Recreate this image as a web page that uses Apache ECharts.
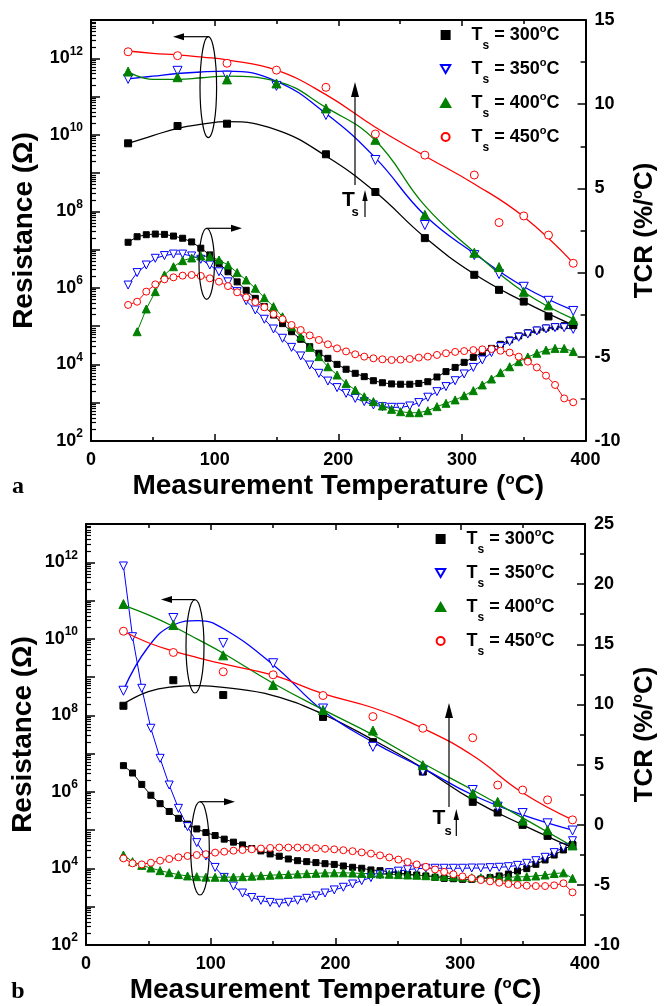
<!DOCTYPE html>
<html><head><meta charset="utf-8">
<script src="https://cdn.jsdelivr.net/npm/echarts@6.0.0/dist/echarts.min.js"></script>
<style>html,body{margin:0;padding:0;background:#fff}#c{width:666px;height:1006px}</style>
</head><body><div id="c"></div>
<script>
// ---------- data ----------
const T_TCR = [30.0,37.3,44.7,52.0,59.4,66.7,74.1,81.4,88.8,96.1,103.5,110.8,118.2,125.5,132.9,140.2,147.6,154.9,162.2,169.6,176.9,184.3,191.6,199.0,206.3,213.7,221.0,228.4,235.7,243.1,250.4,257.8,265.1,272.4,279.8,287.1,294.5,301.8,309.2,316.5,323.9,331.2,338.6,345.9,353.3,360.6,368.0,375.3,382.7,390.0];
const T_RES = [30,70,110,150,190,230,270,310,330,350,370,390];
const T_RES_300 = [30,70,110,190,230,270,310,330,350,370,390];
const T_FIT = [30,50,70,90,110,150,190,230,270,310,350,390];
const SERIES_KEYS = ['300','350','400','450'];

// Panel a: resistance markers (Ohm)
const aRes300 = [6.0e9,1.7e10,1.95e10,3.1e9,3.2e8,2.0e7,2.2e6,8.9e5,4.4e5,1.8e5,1.07e5];
const aRes350 = [2.9e11,4.7e11,3.5e11,1.9e11,3.3e10,2.2e9,4.4e7,7.2e6,2.3e6,1.07e6,4.6e5,2.5e5];
const aRes400 = [4.5e11,3.2e11,2.8e11,2.2e11,4.9e10,7.4e9,8.1e7,8.3e6,3.5e6,7.9e5,3.5e5,1.45e5];
const aRes450 = [1.48e12,1.17e12,7.4e11,4.9e11,1.74e11,1.05e10,2.95e9,8.9e8,5.1e7,7.6e7,2.4e7,4.4e6];
// Panel a: fitted resistance curves (Ohm) at T_FIT
const aFit300 = [6.0e9,9.5e9,1.48e10,1.9e10,2.2e10,1.35e10,2.8e9,3.2e8,2.1e7,2.3e6,4.4e5,1.07e5];
const aFit350 = [2.9e11,3.4e11,4.0e11,4.4e11,4.6e11,2.5e11,3.6e10,2.5e9,7.9e7,7.9e6,1.07e6,2.6e5];
const aFit400 = [4.4e11,2.8e11,2.8e11,3.1e11,3.4e11,2.5e11,5.2e10,7.1e9,1.41e8,8.7e6,7.8e5,1.55e5];
const aFit450 = [1.55e12,1.35e12,1.23e12,1.07e12,9.1e11,4.9e11,1.12e11,1.58e10,2.8e9,5.2e8,7.2e7,4.5e6];
// Panel a: TCR (%/C) at T_TCR
const aTcr300 = [1.80,2.13,2.25,2.29,2.27,2.17,2.04,1.82,1.45,1.05,0.55,0.05,-0.55,-1.05,-1.53,-2.02,-2.52,-3.03,-3.51,-3.96,-4.40,-4.79,-5.09,-5.45,-5.74,-5.98,-6.18,-6.42,-6.54,-6.61,-6.63,-6.63,-6.58,-6.48,-6.20,-5.88,-5.63,-5.33,-5.03,-4.75,-4.50,-4.26,-4.00,-3.76,-3.57,-3.41,-3.29,-3.21,-3.15,-3.11];
const aTcr350 = [-0.74,0.00,0.45,0.85,1.01,1.10,1.10,0.99,0.79,0.45,0.05,-0.55,-1.13,-1.67,-2.22,-2.77,-3.35,-3.90,-4.44,-4.95,-5.49,-5.98,-6.44,-6.83,-7.17,-7.47,-7.66,-7.86,-7.96,-8.00,-8.00,-7.92,-7.72,-7.40,-7.07,-6.77,-6.42,-6.02,-5.63,-5.19,-4.75,-4.40,-4.10,-3.84,-3.65,-3.47,-3.35,-3.27,-3.27,-3.37];
const aTcr400 = [null,-3.51,-2.16,-1.13,-0.14,0.35,0.71,0.87,0.99,0.95,0.75,0.45,0.00,-0.44,-0.93,-1.49,-2.02,-2.62,-3.21,-3.80,-4.44,-4.99,-5.59,-6.08,-6.58,-6.97,-7.37,-7.66,-7.92,-8.12,-8.26,-8.32,-8.32,-8.20,-7.96,-7.76,-7.56,-7.31,-7.01,-6.67,-6.32,-5.94,-5.59,-5.29,-5.01,-4.79,-4.60,-4.50,-4.50,-4.69];
const aTcr450 = [-1.92,-1.73,-1.13,-0.70,-0.40,-0.28,-0.18,-0.14,-0.20,-0.34,-0.54,-0.80,-1.17,-1.47,-1.75,-2.06,-2.46,-2.77,-3.11,-3.41,-3.73,-4.00,-4.26,-4.50,-4.68,-4.85,-4.99,-5.09,-5.15,-5.19,-5.17,-5.13,-5.05,-4.99,-4.89,-4.79,-4.71,-4.66,-4.60,-4.56,-4.54,-4.64,-4.75,-4.99,-5.29,-5.63,-6.12,-6.67,-7.47,-7.70];

// Panel b: resistance markers (Ohm)
const bRes300 = [1.78e8,8.3e8,3.4e8,9.1e7,2.0e7,3.4e6,5.5e5,2.9e5,1.38e5,7.1e4,4.0e4];
const bRes350 = [4.4e8,3.5e10,7.8e9,2.3e9,1.51e8,1.51e7,3.5e6,1.12e6,4.1e5,2.8e5,1.51e5,9.8e4];
const bRes400 = [8.1e10,2.3e10,3.7e9,6.2e8,1.38e8,4.0e7,5.0e6,9.1e5,5.5e5,1.78e5,1.0e5,4.0e4];
const bRes450 = [1.58e10,4.4e9,1.38e9,1.15e9,3.3e8,9.3e7,4.6e7,2.6e7,1.51e6,1.12e6,6.2e5,1.86e5];
// Panel b: fitted resistance curves (Ohm) at T_FIT
const bFit300 = [2.0e8,4.2e8,5.6e8,6.0e8,5.4e8,3.3e8,1.07e8,2.3e7,4.2e6,6.2e5,1.38e5,3.5e4];
const bFit350 = [4.6e8,6.2e9,2.3e10,3.0e10,1.86e10,2.1e9,1.32e8,2.0e7,4.2e6,8.3e5,2.5e5,1.0e5];
const bFit400 = [7.6e10,4.2e10,2.1e10,9.5e9,4.2e9,6.9e8,1.41e8,3.1e7,5.6e6,1.12e6,2.1e5,3.8e4];
const bFit450 = [1.58e10,7.9e9,4.8e9,3.2e9,2.2e9,1.12e9,3.7e8,1.58e8,4.6e7,8.9e6,9.5e5,1.86e5];
// Panel b: TCR (%/C) at T_TCR
const bTcr300 = [4.91,4.30,3.35,2.45,1.75,1.10,0.53,0.05,-0.35,-0.65,-0.90,-1.20,-1.45,-1.68,-1.98,-2.18,-2.43,-2.62,-2.85,-2.99,-3.07,-3.15,-3.24,-3.30,-3.43,-3.54,-3.62,-3.76,-3.82,-3.90,-4.00,-4.10,-4.18,-4.26,-4.37,-4.46,-4.49,-4.54,-4.54,-4.51,-4.40,-4.26,-4.10,-3.85,-3.65,-3.29,-2.93,-2.52,-2.10,-1.63];
const bTcr350 = [21.51,15.63,11.34,8.02,5.52,3.30,1.36,-0.16,-1.49,-2.60,-3.55,-4.38,-5.10,-5.68,-6.05,-6.29,-6.46,-6.53,-6.45,-6.28,-6.12,-5.92,-5.68,-5.42,-5.20,-4.93,-4.65,-4.40,-4.17,-4.00,-3.86,-3.74,-3.65,-3.62,-3.62,-3.62,-3.62,-3.62,-3.60,-3.60,-3.57,-3.54,-3.49,-3.38,-3.21,-2.99,-2.71,-2.32,-1.88,-1.33];
const bTcr400 = [-2.52,-3.07,-3.38,-3.60,-3.82,-3.99,-4.15,-4.26,-4.32,-4.36,-4.37,-4.37,-4.35,-4.32,-4.28,-4.24,-4.20,-4.16,-4.13,-4.10,-4.07,-4.04,-4.01,-4.00,-4.00,-4.02,-4.05,-4.07,-4.10,-4.12,-4.15,-4.18,-4.20,-4.24,-4.28,-4.30,-4.33,-4.36,-4.40,-4.40,-4.40,-4.37,-4.36,-4.34,-4.32,-4.26,-4.18,-4.06,-4.00,-4.46];
const bTcr450 = [-2.80,-3.21,-3.30,-3.16,-2.99,-2.85,-2.71,-2.60,-2.52,-2.45,-2.32,-2.24,-2.16,-2.10,-2.04,-1.98,-1.93,-1.90,-1.90,-1.90,-1.92,-1.95,-2.00,-2.05,-2.12,-2.20,-2.30,-2.40,-2.55,-2.72,-2.90,-3.10,-3.30,-3.50,-3.72,-3.92,-4.12,-4.30,-4.45,-4.60,-4.71,-4.82,-4.93,-5.01,-5.07,-5.10,-5.10,-5.04,-4.87,-5.62];

// axis tick labels
const X_TICKS = [0,100,200,300,400];
const RES_LABEL_EXPONENTS = [2,4,6,8,10,12];

// ---------- styles ----------
const FONT = '"Liberation Sans", Arial, sans-serif';
const STYLE = {
  '300': {color:'#000000', symbol:'rect', fill:'#000000', rot:0, size:7, icon:'path://M0,0L10,0L10,10L0,10Z'},
  '350': {color:'#0000ff', symbol:'triangle', fill:'#ffffff', rot:180, size:9, icon:'path://M0,0L10,0L5,8.66Z'},
  '400': {color:'#008000', symbol:'triangle', fill:'#008000', rot:0, size:9, icon:'path://M5,0L10,8.66L0,8.66Z'},
  '450': {color:'#ff0000', symbol:'circle', fill:'#ffffff', rot:0, size:8, icon:'circle'}
};
const zip = (xs, ys) => xs.map((x,i) => [x, ys[i]]).filter(p => p[1] !== null);

const panels = [
  {id:'a', xi:0, yRes:0, yTcr:1,
   resT:{'300':T_RES_300,'350':T_RES,'400':T_RES,'450':T_RES},
   res:{'300':aRes300,'350':aRes350,'400':aRes400,'450':aRes450},
   fit:{'300':aFit300,'350':aFit350,'400':aFit400,'450':aFit450},
   tcr:{'300':aTcr300,'350':aTcr350,'400':aTcr400,'450':aTcr450}},
  {id:'b', xi:2, yRes:2, yTcr:3,
   resT:{'300':T_RES_300,'350':T_RES,'400':T_RES,'450':T_RES},
   res:{'300':bRes300,'350':bRes350,'400':bRes400,'450':bRes450},
   fit:{'300':bFit300,'350':bFit350,'400':bFit400,'450':bFit450},
   tcr:{'300':bTcr300,'350':bTcr350,'400':bTcr400,'450':bTcr450}}
];

const series = [];
panels.forEach(p => {
  SERIES_KEYS.forEach(k => {
    const s = STYLE[k];
    series.push({type:'line', name:p.id+'tcr'+k, xAxisIndex:p.xi, yAxisIndex:p.yTcr,
      data: zip(T_TCR, p.tcr[k]), symbol:s.symbol, symbolSize:s.size-1, symbolRotate:s.rot,
      itemStyle:{color:s.fill, borderColor:s.color, borderWidth:1},
      lineStyle:{color:s.color, width:1}, z:2});
  });
  SERIES_KEYS.forEach(k => {
    const s = STYLE[k];
    series.push({type:'line', name:p.id+'fit'+k, xAxisIndex:p.xi, yAxisIndex:p.yRes,
      data: zip(T_FIT, p.fit[k]), smooth:0.45, showSymbol:false, symbol:'none',
      lineStyle:{color:s.color, width:1.3}, z:3});
  });
  SERIES_KEYS.forEach(k => {
    const s = STYLE[k];
    series.push({type:'scatter', name:p.id+k, xAxisIndex:p.xi, yAxisIndex:p.yRes,
      data: zip(p.resT[k], p.res[k]), symbol:s.symbol, symbolSize:s.size, symbolRotate:s.rot,
      itemStyle:{color:s.fill, borderColor:s.color, borderWidth:1, opacity:1}, z:4});
  });
});

// ---------- axes ----------
const GRID_A = {left:91, top:20, width:500, height:421};
const GRID_B = {left:86, top:524, width:499, height:421};
const grids = [GRID_A, GRID_B, GRID_A, GRID_B, GRID_A, GRID_B];

const lineStyle = {color:'#000', width:2};
const lbl = {color:'#000', fontSize:18, fontWeight:'bold', fontFamily:FONT};
function nameRich(size){
  return {
    t:{fontSize:size, fontWeight:'bold', fontFamily:FONT, color:'#000', verticalAlign:'middle'},
    o:{fontSize:Math.round(size*0.55), fontWeight:'bold', fontFamily:FONT, color:'#000', verticalAlign:'middle', padding:[0,0,Math.round(size*0.5),0]}
  };
}
function xMain(g, nameGap){
  return {type:'value', gridIndex:g, min:X_TICKS[0], max:X_TICKS[X_TICKS.length-1], interval:100,
    position:'bottom',
    axisLine:{show:true, onZero:false, lineStyle}, axisTick:{show:true, inside:true, length:7, lineStyle:{width:1.5}},
    minorTick:{show:true, splitNumber:2, length:4, lineStyle:{color:'#000', width:1.5}},
    splitLine:{show:false}, axisLabel:{...lbl, margin:10},
    name:'{t|Measurement Temperature (}{o|o}{t|C)}', nameLocation:'middle', nameGap:nameGap,
    nameTextStyle:{rich:nameRich(28)}};
}
function xTop(g){
  return {type:'value', gridIndex:g, min:0, max:400, interval:100, position:'top',
    axisLine:{show:true, onZero:false, lineStyle}, axisTick:{show:true, inside:true, length:6, lineStyle:{width:1.5}},
    minorTick:{show:true, splitNumber:2, length:4, lineStyle:{color:'#000', width:1.5}},
    splitLine:{show:false}, axisLabel:{show:false}};
}
function xHidden(g){ return {type:'value', gridIndex:g, min:0, max:400, show:false}; }
function yRes(g, nameGap){
  return {type:'log', logBase:10, gridIndex:g, min:1e2, max:1e13, position:'left',
    axisLine:{show:true, onZero:false, lineStyle}, axisTick:{show:false}, axisLabel:{show:false},
    splitLine:{show:false}, minorTick:{show:false},
    name:'Resistance (\u03A9)', nameLocation:'middle', nameRotate:90, nameGap:nameGap,
    nameTextStyle:{fontSize:28, fontWeight:'bold', fontFamily:FONT, color:'#000'}};
}
function yTcr(g, min, max, nameGap){
  return {type:'value', gridIndex:g, min:min, max:max, interval:5, position:'right',
    axisLine:{show:true, onZero:false, lineStyle}, axisTick:{show:true, inside:true, length:8, lineStyle:{width:1.5}},
    minorTick:{show:true, splitNumber:2, length:5, lineStyle:{color:'#000', width:1.5}},
    splitLine:{show:false}, axisLabel:{...lbl, margin:9},
    name:'{t|TCR (%/}{o|o}{t|C)}', nameLocation:'middle', nameRotate:90, nameGap:nameGap,
    nameTextStyle:{rich:nameRich(26)}};
}
function yMajor(g){
  return {type:'value', gridIndex:g, min:2, max:13, interval:1, position:'left',
    axisLine:{show:false}, axisTick:{show:true, inside:true, length:9, lineStyle:{color:'#000', width:1.5}},
    splitLine:{show:false},
    axisLabel:{margin:8, formatter: v => RES_LABEL_EXPONENTS.indexOf(v) >= 0 ? '{b|10}{e|' + v + '}' : '',
      rich:{b:{...lbl, verticalAlign:'middle'}, e:{color:'#000', fontSize:12, fontWeight:'bold', fontFamily:FONT, verticalAlign:'middle', padding:[0,0,14,0]}}}};
}
const MINOR_LOG = [];
for (let n = 2; n < 13; n++) for (let k = 2; k <= 9; k++) MINOR_LOG.push(n + Math.log10(k));
function yMinor(g){
  return {type:'value', gridIndex:g, min:2, max:13, position:'left',
    axisLine:{show:false}, splitLine:{show:false}, axisLabel:{show:false},
    axisTick:{show:true, inside:true, length:5, customValues:MINOR_LOG, lineStyle:{color:'#000', width:1.2}}};
}

const xAxes = [xMain(0, 31), xTop(0), xMain(1, 31), xTop(1), xHidden(2), xHidden(3), xHidden(4), xHidden(5)];
const yAxes = [yRes(0, 53), yTcr(0, -10, 15, 37), yRes(1, 49), yTcr(1, -10, 25, 43), yMajor(2), yMajor(3), yMinor(4), yMinor(5)];

// ---------- legend ----------
const legRich = {
  t:{fontSize:18, fontWeight:'bold', fontFamily:FONT, color:'#000', verticalAlign:'middle'},
  s:{fontSize:12, fontWeight:'bold', fontFamily:FONT, color:'#000', verticalAlign:'middle', padding:[21,0,0,0]},
  o:{fontSize:11, fontWeight:'bold', fontFamily:FONT, color:'#000', verticalAlign:'middle', padding:[0,0,12,0]}
};
function legend(id, left, top){
  return {orient:'vertical', left:left, top:top, padding:0, itemGap:6, itemWidth:42, itemHeight:8,
    symbolKeepAspect:true,
    data: SERIES_KEYS.map(k => ({name:id+k, icon:STYLE[k].icon})),
    formatter: nm => '{t|T}{s|s}{t| = ' + nm.slice(1) + '}{o|o}{t|C}',
    textStyle:{rich:legRich}, selectedMode:false};
}

// ---------- annotations ----------
const K = {stroke:'#000', lineWidth:1.2, fill:null};
function ell(cx, cy, rx, ry){ return {type:'ellipse', shape:{cx, cy, rx, ry}, style:{...K}, z:10}; }
function seg(x1, y1, x2, y2){ return {type:'line', shape:{x1, y1, x2, y2}, style:{stroke:'#000', lineWidth:1.2}, z:10}; }
function head(pts){ return {type:'polygon', shape:{points:pts}, style:{fill:'#000'}, z:10}; }
function txt(x, y, t, font){ return {type:'text', x, y, style:{text:t, font, fill:'#000', align:'center', verticalAlign:'middle'}, z:10}; }

const graphic = [
  ell(208.3, 87.2, 8.3, 50.5), seg(208.3, 36.7, 182, 36.7), head([[173,36.7],[184,33.2],[184,40.2]]),
  ell(206.7, 263.8, 7.7, 35.5), seg(206.7, 228.3, 232, 228.3), head([[242,228.3],[231,224.8],[231,231.8]]),
  seg(355, 185, 355, 95), head([[355,82],[351,97],[359,97]]),
  seg(365, 217, 365, 199), head([[365,190],[362.3,201],[367.7,201]]),
  txt(348.5, 200.5, 'T', 'bold 21px ' + FONT), txt(355, 212, 's', 'bold 13px ' + FONT),
  ell(195, 646.3, 9, 46.7), seg(195, 599.6, 170, 599.6), head([[161,599.6],[172,596.1],[172,603.1]]),
  ell(200, 848.3, 9.3, 46.7), seg(200, 801.7, 226, 801.7), head([[235,801.7],[224,798.2],[224,805.2]]),
  seg(449, 807, 449, 716), head([[449,703],[445,718],[453,718]]),
  seg(456.3, 836, 456.3, 818), head([[456.3,809],[453.6,820],[459,820]]),
  txt(439, 818, 'T', 'bold 21px ' + FONT), txt(448, 831.5, 's', 'bold 13px ' + FONT),
  txt(18, 487, 'a', 'bold 24px "Liberation Serif", serif'),
  txt(18, 992, 'b', 'bold 24px "Liberation Serif", serif')
];

const chart = echarts.init(document.getElementById('c'), null, {renderer:'canvas'});
chart.setOption({
  animation:false, backgroundColor:'#fff',
  grid: grids.map(g => ({...g, containLabel:false})),
  xAxis: xAxes, yAxis: yAxes,
  legend: [legend('a', 440, 23.5), legend('b', 435, 527.5)],
  series, graphic
});
</script></body></html>
